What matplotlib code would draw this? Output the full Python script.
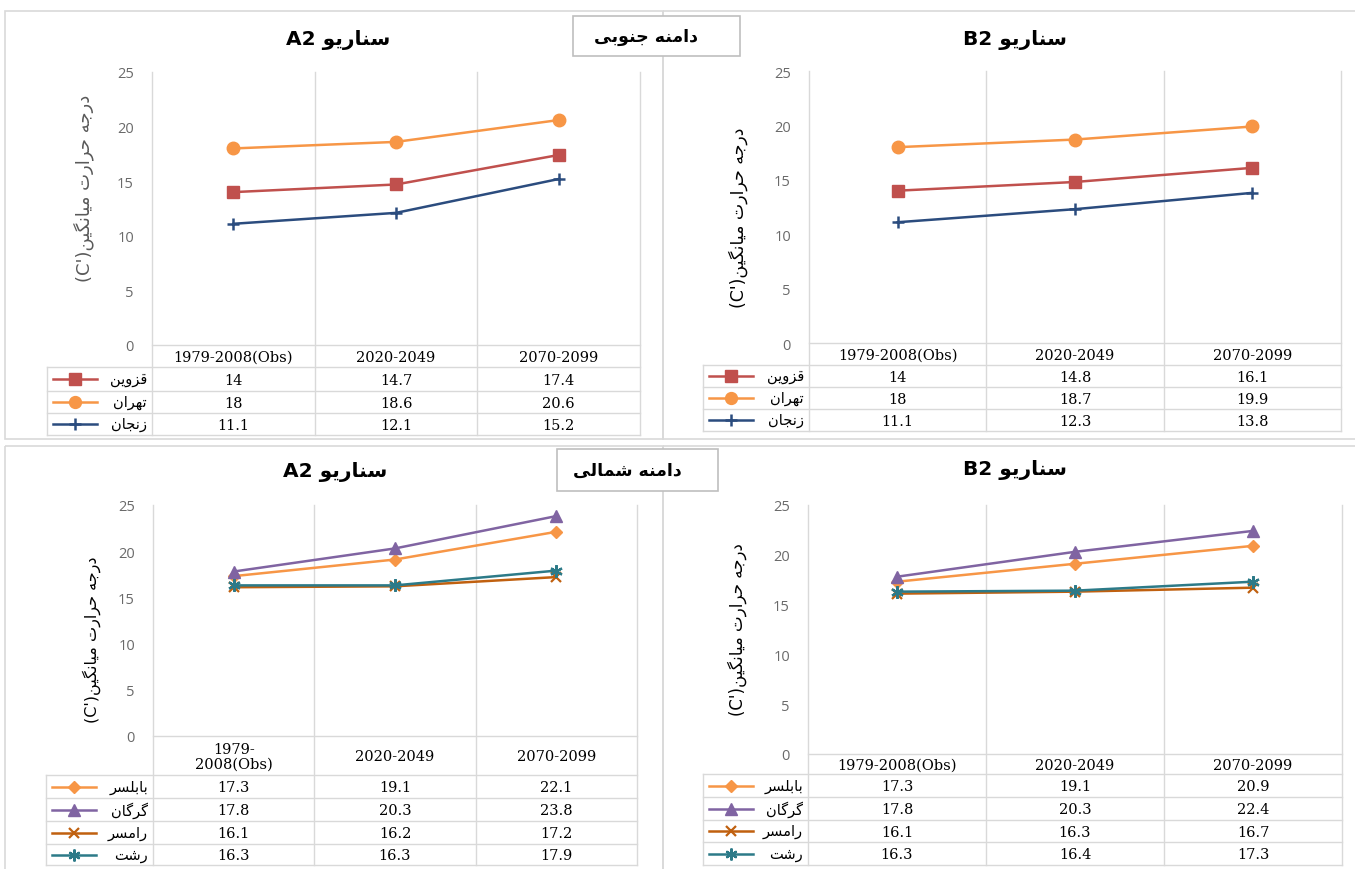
import matplotlib
matplotlib.use('Agg')
import matplotlib.pyplot as plt
from matplotlib.patches import Rectangle
from matplotlib import transforms

# ---------------- data ----------------
periods = ['1979-2008(Obs)', '2020-2049', '2070-2099']
periods_wrapped = ['1979-\n2008(Obs)', '2020-2049', '2070-2099']

south_stations = ['قزوین', 'تهران', 'زنجان']
north_stations = ['بابلسر', 'گرگان', 'رامسر', 'رشت']

sA2_qazvin = [14, 14.7, 17.4]
sA2_tehran = [18, 18.6, 20.6]
sA2_zanjan = [11.1, 12.1, 15.2]

sB2_qazvin = [14, 14.8, 16.1]
sB2_tehran = [18, 18.7, 19.9]
sB2_zanjan = [11.1, 12.3, 13.8]

nA2_babolsar = [17.3, 19.1, 22.1]
nA2_gorgan = [17.8, 20.3, 23.8]
nA2_ramsar = [16.1, 16.2, 17.2]
nA2_rasht = [16.3, 16.3, 17.9]

nB2_babolsar = [17.3, 19.1, 20.9]
nB2_gorgan = [17.8, 20.3, 22.4]
nB2_ramsar = [16.1, 16.3, 16.7]
nB2_rasht = [16.3, 16.4, 17.3]

yticks = [0, 5, 10, 15, 20, 25]
title_A2 = 'سناریو A2'
title_B2 = 'سناریو B2'
ylabel_text = 'درجه حرارت میانگین'
ylabel_unit = "(C')"
box_south = 'دامنه جنوبی'
box_north = 'دامنه شمالی'

# ------------- simple Persian shaping (presentation forms) -------------
FORMS = {
    'ا': ('\uFE8D', '\uFE8E', None, None),
    'ب': ('\uFE8F', '\uFE90', '\uFE91', '\uFE92'),
    'ت': ('\uFE95', '\uFE96', '\uFE97', '\uFE98'),
    'ج': ('\uFE9D', '\uFE9E', '\uFE9F', '\uFEA0'),
    'ح': ('\uFEA1', '\uFEA2', '\uFEA3', '\uFEA4'),
    'د': ('\uFEA9', '\uFEAA', None, None),
    'ر': ('\uFEAD', '\uFEAE', None, None),
    'ز': ('\uFEAF', '\uFEB0', None, None),
    'س': ('\uFEB1', '\uFEB2', '\uFEB3', '\uFEB4'),
    'ش': ('\uFEB5', '\uFEB6', '\uFEB7', '\uFEB8'),
    'ق': ('\uFED5', '\uFED6', '\uFED7', '\uFED8'),
    'ل': ('\uFEDD', '\uFEDE', '\uFEDF', '\uFEE0'),
    'م': ('\uFEE1', '\uFEE2', '\uFEE3', '\uFEE4'),
    'ن': ('\uFEE5', '\uFEE6', '\uFEE7', '\uFEE8'),
    'ه': ('\uFEE9', '\uFEEA', '\uFEEB', '\uFEEC'),
    'و': ('\uFEED', '\uFEEE', None, None),
    'ی': ('\uFBFC', '\uFBFD', '\uFBFE', '\uFBFF'),
    'گ': ('\uFB92', '\uFB93', '\uFB94', '\uFB95'),
}


def shape(word):
    out = []
    n = len(word)
    for i, ch in enumerate(word):
        if ch not in FORMS:
            out.append(ch)
            continue
        prev = word[i - 1] if i > 0 else None
        nxt = word[i + 1] if i < n - 1 else None
        jp = prev in FORMS and FORMS[prev][2] is not None
        jn = nxt in FORMS and FORMS[ch][2] is not None
        iso, fin, ini, med = FORMS[ch]
        if jp and jn:
            out.append(med)
        elif jp:
            out.append(fin)
        elif jn:
            out.append(ini)
        else:
            out.append(iso)
    return ''.join(out)


def rtl(s):
    return shape(s)[::-1]


def rtl_mixed_title(s):
    fa, lat = s.split(' ')
    return lat + ' ' + rtl(fa)


# ---------------- figure ----------------
W, H = 1355, 870
fig = plt.figure(figsize=(W / 100, H / 100), dpi=100)
canvas = fig.add_axes([0, 0, 1, 1])
canvas.set_xlim(0, W)
canvas.set_ylim(H, 0)
canvas.axis('off')
canvas.set_zorder(0)

GRID = '#D9D9D9'
TICK = '#6A6A6A'
FA = ['DejaVu Sans']
SERIF = ['DejaVu Serif', 'Liberation Serif']

south_styles = [
    dict(color='#C0504D', marker='s', ms=9),
    dict(color='#F79646', marker='o', ms=9),
    dict(color='#2B4C7E', marker='+', ms=9, mew=1.8),
]
north_styles = [
    dict(color='#F79646', marker='D', ms=6.5),
    dict(color='#8064A2', marker='^', ms=8.5),
    dict(color='#C0600F', marker='x', ms=7, mew=1.6),
    dict(color='#2C7A88', marker=(6, 2, 0), ms=9, mew=1.6),
]

panels = [
    dict(box=(5, 12, 663, 440), plot=(152, 73, 640, 346),
         rows=[346, 368, 392, 414, 436], tleft=47, title=title_A2, tpos=(338, 40),
         ypos=(84, 188), ycol='#595959', ysize=13,
         names=south_stations, series=[sA2_qazvin, sA2_tehran, sA2_zanjan],
         styles=south_styles, cats=periods),
    dict(box=(663, 12, 1358, 440), plot=(809, 72, 1341, 344),
         rows=[344, 366, 388, 410, 432], tleft=703, title=title_B2, tpos=(1015, 40),
         ypos=(738, 218), ycol='black', ysize=12.5,
         names=south_stations, series=[sB2_qazvin, sB2_tehran, sB2_zanjan],
         styles=south_styles, cats=periods),
    dict(box=(5, 447, 663, 872), plot=(153, 506, 637, 737),
         rows=[737, 776, 799, 822, 845, 866], tleft=46, title=title_A2, tpos=(335, 472),
         ypos=(92, 640), ycol='black', ysize=11.5,
         names=north_stations, series=[nA2_babolsar, nA2_gorgan, nA2_ramsar, nA2_rasht],
         styles=north_styles, cats=periods_wrapped),
    dict(box=(663, 447, 1358, 872), plot=(808, 506, 1342, 755),
         rows=[755, 775, 798, 821, 843, 866], tleft=703, title=title_B2, tpos=(1015, 470),
         ypos=(737, 630), ycol='black', ysize=12,
         names=north_stations, series=[nB2_babolsar, nB2_gorgan, nB2_ramsar, nB2_rasht],
         styles=north_styles, cats=periods),
]

for p in panels:
    bx0, by0, bx1, by1 = p['box']
    canvas.add_patch(Rectangle((bx0, by0), bx1 - bx0, by1 - by0, fill=False,
                               edgecolor=GRID, lw=1.2, zorder=1))
    x0, y0, x1, y1 = p['plot']
    ax = fig.add_axes([x0 / W, 1 - y1 / H, (x1 - x0) / W, (y1 - y0) / H])
    ax.set_facecolor('none')
    ax.set_zorder(2)
    ax.set_xlim(-0.5, 2.5)
    ax.set_ylim(0, 25)
    ax.set_yticks(yticks)
    ax.set_yticklabels([str(t) for t in yticks], fontsize=10.5, color=TICK,
                       family=['Open Sans', 'DejaVu Sans'])
    ax.tick_params(axis='y', length=0, pad=13)
    ax.set_xticks([])
    for s in ax.spines.values():
        s.set_visible(False)

    xs = list(range(len(p['cats'])))
    for vals, st in zip(p['series'], p['styles']):
        ax.plot(xs, vals, color=st['color'], lw=1.8, marker=st['marker'],
                markersize=st['ms'], markeredgewidth=st.get('mew', 1),
                markerfacecolor=st['color'], markeredgecolor=st['color'],
                clip_on=False, zorder=3)

    # table / grid lines
    mix = transforms.blended_transform_factory(ax.transData, canvas.transData)
    rows = p['rows']
    tb = rows[-1]
    for xe in [-0.5, 0.5, 1.5, 2.5]:
        canvas.plot([xe, xe], [y0, tb], transform=mix, color=GRID, lw=1, zorder=1)
    canvas.plot([-0.5, 2.5], [rows[0], rows[0]], transform=mix, color=GRID, lw=1, zorder=1)
    for yr in rows[1:]:
        canvas.plot([p['tleft'], x1], [yr, yr], color=GRID, lw=1, zorder=1)
    canvas.plot([p['tleft'], p['tleft']], [rows[1], tb], color=GRID, lw=1, zorder=1)

    # header
    for i, c in enumerate(p['cats']):
        canvas.text(i, (rows[0] + rows[1]) / 2 + 1, c, transform=mix, ha='center',
                    va='center', fontsize=10.5, family=SERIF, color='black',
                    linespacing=1.0, zorder=4)
    # body
    for r, (name, vals, st) in enumerate(zip(p['names'], p['series'], p['styles'])):
        yc = (rows[r + 1] + rows[r + 2]) / 2
        for i, v in enumerate(vals):
            canvas.text(i, yc + 1, f'{v:g}', transform=mix, ha='center', va='center',
                        fontsize=10.5, family=SERIF, color='black', zorder=4)
        lx0 = p['tleft'] + 6
        lx1 = lx0 + 44
        canvas.plot([lx0, lx1], [yc, yc], color=st['color'], lw=1.8, zorder=4)
        canvas.plot([(lx0 + lx1) / 2], [yc], color=st['color'], marker=st['marker'],
                    markersize=st['ms'] * 0.95, markeredgewidth=st.get('mew', 1),
                    markerfacecolor=st['color'], markeredgecolor=st['color'], zorder=5)
        canvas.text(x0 - 5, yc, rtl(name), ha='right', va='center', fontsize=10.5,
                    family=FA, color='black', zorder=4)

    # title
    canvas.text(p['tpos'][0], p['tpos'][1], rtl_mixed_title(p['title']), ha='center',
                va='center', fontsize=14.5, fontweight='bold', family=FA, color='black',
                zorder=4)
    # y label
    canvas.text(p['ypos'][0], p['ypos'][1], ylabel_unit + rtl(ylabel_text), rotation=90,
                ha='center', va='center', fontsize=p['ysize'], family=FA,
                color=p['ycol'], zorder=4)

# region boxes
for (bx0, by0, bx1, by1), txt in [((573, 17, 740, 57), box_south),
                                  ((557, 450, 718, 492), box_north)]:
    canvas.add_patch(Rectangle((bx0, by0), bx1 - bx0, by1 - by0, facecolor='white',
                               edgecolor='#BFBFBF', lw=1.2, zorder=6))
    canvas.text((bx0 + bx1) / 2 - 10, (by0 + by1) / 2, rtl(txt), ha='center', va='center',
                fontsize=12.5, fontweight='bold', family=FA, color='black', zorder=7)

fig.savefig('out.png', dpi=100)
